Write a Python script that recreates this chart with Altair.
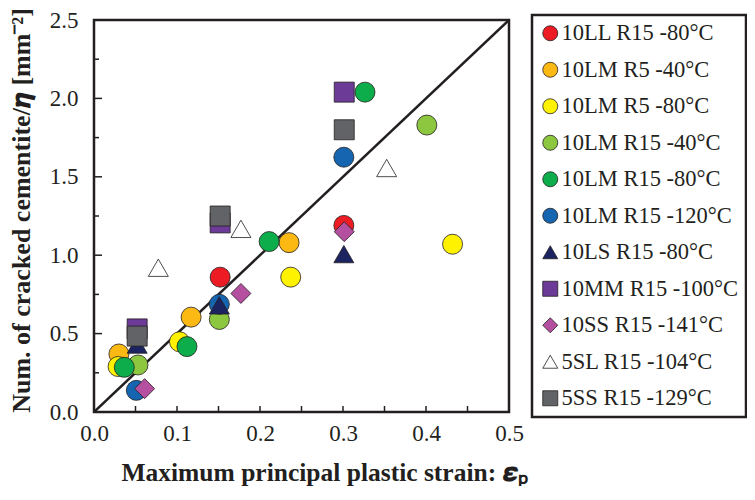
import altair as alt
import pandas as pd

series = ["10LL R15 -80°C", "10LM R5 -40°C", "10LM R5 -80°C", "10LM R15 -40°C",
          "10LM R15 -80°C", "10LM R15 -120°C", "10LS R15 -80°C", "10MM R15 -100°C",
          "10SS R15 -141°C", "5SL R15 -104°C", "5SS R15 -129°C"]
fills = ["#ED1C24", "#FDB913", "#FFF200", "#8DC63F", "#0DAD4B", "#1565B0",
         "#1B2460", "#6C3A97", "#B54FA0", "#FFFFFF", "#626366"]
shapes = ["circle", "circle", "circle", "circle", "circle", "circle",
          "triangle-up", "square", "diamond", "triangle-up", "square"]

x_10LL_R15_80 = [0.152, 0.301]
y_10LL_R15_80 = [0.86, 1.19]
x_10LM_R5_40 = [0.030, 0.117, 0.235]
y_10LM_R5_40 = [0.37, 0.605, 1.08]
x_10LM_R5_80 = [0.029, 0.103, 0.237, 0.432]
y_10LM_R5_80 = [0.29, 0.448, 0.86, 1.07]
x_10LM_R15_40 = [0.053, 0.151, 0.401]
y_10LM_R15_40 = [0.30, 0.59, 1.83]
x_10LM_R15_80 = [0.0365, 0.112, 0.211, 0.3265]
y_10LM_R15_80 = [0.285, 0.417, 1.087, 2.04]
x_10LM_R15_120 = [0.051, 0.151, 0.301]
y_10LM_R15_120 = [0.138, 0.687, 1.625]
x_10LS_R15_80 = [0.052, 0.151, 0.301]
y_10LS_R15_80 = [0.43, 0.68, 1.007]
x_10MM_R15_100 = [0.052, 0.152, 0.3015]
y_10MM_R15_100 = [0.53, 1.206, 2.04]
x_10SS_R15_141 = [0.061, 0.177, 0.3015]
y_10SS_R15_141 = [0.149, 0.756, 1.15]
x_5SL_R15_104 = [0.0775, 0.177, 0.3526]
y_5SL_R15_104 = [0.92, 1.168, 1.556]
x_5SS_R15_129 = [0.052, 0.152, 0.3015]
y_5SS_R15_129 = [0.484, 1.25, 1.80]

xs = [x_10LL_R15_80, x_10LM_R5_40, x_10LM_R5_80, x_10LM_R15_40, x_10LM_R15_80,
      x_10LM_R15_120, x_10LS_R15_80, x_10MM_R15_100, x_10SS_R15_141, x_5SL_R15_104,
      x_5SS_R15_129]
ys = [y_10LL_R15_80, y_10LM_R5_40, y_10LM_R5_80, y_10LM_R15_40, y_10LM_R15_80,
      y_10LM_R15_120, y_10LS_R15_80, y_10MM_R15_100, y_10SS_R15_141, y_5SL_R15_104,
      y_5SS_R15_129]

diag_x = [0.0, 0.5]
diag_y = [0.0, 2.5]

x_ticks = [0.0, 0.1, 0.2, 0.3, 0.4, 0.5]
y_ticks = [0.0, 0.5, 1.0, 1.5, 2.0, 2.5]
x_minor = [0.05, 0.1, 0.15, 0.2, 0.25, 0.3, 0.35, 0.4, 0.45]
y_major_inner = [0.5, 1.0, 1.5, 2.0]
y_minor = [0.25, 0.75, 1.25, 1.75, 2.25]

rows = []
order = 0
for s, xv, yv in zip(series, xs, ys):
    for a, b in zip(xv, yv):
        rows.append({"series": s, "x": a, "y": b, "order": order})
        order += 1
pts = pd.DataFrame(rows)
diag = pd.DataFrame({"x": diag_x, "y": diag_y})

FONT = "Liberation Serif"
INK = "#231F20"
W, H = 415, 392

xscale = alt.Scale(domain=[0, 0.5], nice=False, zero=False)
yscale = alt.Scale(domain=[0, 2.5], nice=False, zero=False)

xaxis = alt.Axis(values=x_ticks, format=".1f", ticks=False, domain=False,
                 grid=False, labelFont=FONT, labelFontSize=23,
                 labelColor=INK, labelPadding=10, labelFlush=False,
                 title="Maximum principal plastic strain: 𝜺ₚ",
                 titleFont=FONT, titleFontSize=25.5, titleFontWeight="bold",
                 titleColor=INK, titleX=230, titleY=60,
                 titleBaseline="middle")
yaxis = alt.Axis(values=y_ticks, format=".1f", ticks=False, domain=False,
                 grid=False, labelFont=FONT, labelFontSize=23,
                 labelColor=INK, labelPadding=16, labelFlush=False,
                 title="Num. of cracked cementite/𝜼 [mm⁻²]",
                 titleFont=FONT, titleFontSize=26, titleFontWeight="bold",
                 titleColor=INK, titleX=-73, titleY=190,
                 titleBaseline="middle", titleAngle=270)

line = alt.Chart(diag).mark_line(color=INK, strokeWidth=2.5, clip=True).encode(
    x=alt.X("x:Q", scale=xscale, axis=xaxis),
    y=alt.Y("y:Q", scale=yscale, axis=yaxis),
)

xtick_marks = alt.Chart(pd.DataFrame({"x": x_minor})).mark_rule(
    color=INK, strokeWidth=1.5).encode(
    x=alt.X("x:Q", scale=xscale, axis=xaxis),
    y=alt.value(H), y2=alt.value(H - 6),
)
ytick_major = alt.Chart(pd.DataFrame({"y": y_major_inner})).mark_rule(
    color=INK, strokeWidth=1.5).encode(
    y=alt.Y("y:Q", scale=yscale, axis=yaxis),
    x=alt.value(0), x2=alt.value(8),
)
ytick_minor = alt.Chart(pd.DataFrame({"y": y_minor})).mark_rule(
    color=INK, strokeWidth=1.5).encode(
    y=alt.Y("y:Q", scale=yscale, axis=yaxis),
    x=alt.value(0), x2=alt.value(5),
)

points = alt.Chart(pts).mark_point(filled=True, size=400, stroke=INK,
                                   strokeWidth=0.8, opacity=1).encode(
    x=alt.X("x:Q", scale=xscale, axis=xaxis),
    y=alt.Y("y:Q", scale=yscale, axis=yaxis),
    color=alt.Color("series:N", scale=alt.Scale(domain=series, range=fills),
                    legend=alt.Legend(title=None, orient="none", legendX=438, legendY=-5,
                                      labelFont=FONT, labelFontSize=22.5,
                                      labelColor=INK, symbolSize=225,
                                      symbolStrokeColor=INK, symbolStrokeWidth=0.8,
                                      rowPadding=13.5, padding=7, labelOffset=0,
                                      strokeColor=INK, fillColor="#FFFFFF",
                                      labelLimit=400)),
    shape=alt.Shape("series:N", scale=alt.Scale(domain=series, range=shapes),
                    legend=alt.Legend(title=None)),
    order=alt.Order("order:Q"),
)

chart = alt.layer(xtick_marks, ytick_major, ytick_minor, line, points).properties(
    width=W, height=H,
    autosize=alt.AutoSizeParams(type="none"),
    padding={"left": 86, "top": 12, "right": 238, "bottom": 74},
).configure_view(stroke=INK, strokeWidth=2.5).configure_legend(
    strokeWidth=2.5
)

chart.save("out.html", embed_options={"renderer": "svg", "actions": False})
